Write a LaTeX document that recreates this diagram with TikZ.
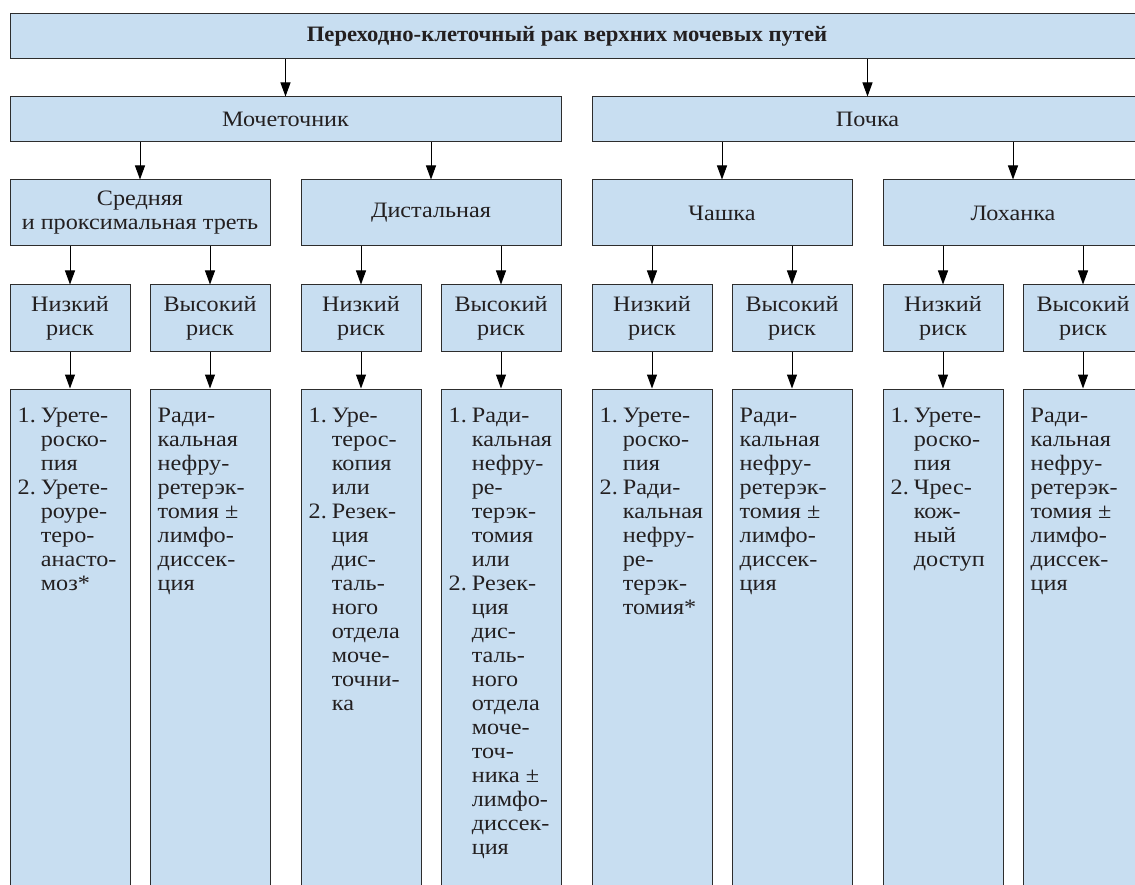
\documentclass[tikz,border=0pt]{standalone}
\usepackage{fontspec}
\setmainfont{Liberation Serif}[FakeStretch=1.1]
\newfontfamily\titlefont{Liberation Serif}[FakeStretch=1.03]
\usetikzlibrary{arrows.meta,calc}

\definecolor{boxfill}{RGB}{200,222,241}
\definecolor{boxline}{RGB}{45,45,45}
\definecolor{ink}{RGB}{35,31,32}

% numbered list with hanging indent, first baseline on the anchor
\newcommand\numlist[1]{\begin{tabular}[t]{@{}r@{\hspace{5pt}}l@{}}#1\end{tabular}}
\newcommand\plainlist[1]{\begin{tabular}[t]{@{}l@{}}#1\end{tabular}}

\begin{document}
\begin{tikzpicture}[x=1pt,y=-1pt,
  box/.style={draw=boxline, fill=boxfill, line width=1pt, inner sep=0pt,
    text=ink, align=center, font=\fontsize{22}{24}\selectfont},
  wide/.style={box, minimum height=45},
  mid/.style={box, minimum width=260, minimum height=66},
  risk/.style={box, minimum width=120, minimum height=66},
  leaf/.style={box, minimum width=120, minimum height=521},
  leaftext/.style={anchor=base west, inner sep=0pt, text=ink,
    font=\fontsize{22}{24}\selectfont},
  titletext/.style={inner sep=0pt, text=ink,
    font=\titlefont\bfseries\fontsize{22}{24}\selectfont},
  arr/.style={draw=black, line width=1pt,
    -{Triangle[length=14pt,width=10pt]}}]

\clip (0,0) rectangle (1135,885);

% level 1
\node[wide, minimum width=1133] (top) at (576.5,36.5) {};
\node[titletext] (title) at (567,36.5)
  {Переходно-клеточный рак верхних мочевых путей};

% level 2
\node[wide, minimum width=551] (ureter) at (285.5,119.5) {Мочеточник};
\node[wide, minimum width=551] (kidney) at (867.5,119.5) {Почка};

% level 3
\node[mid] (midprox) at (140,213) {Средняя\\и проксимальная треть};
\node[mid] (distal)  at (431,213) {Дистальная};
\node[mid] (calyx)   at (722,213) {Чашка};
\node[mid] (pelvis)  at (1013,213) {Лоханка};

% level 4
\node[risk] (r1) at (70,318)   {Низкий\\риск};
\node[risk] (r2) at (210,318)  {Высокий\\риск};
\node[risk] (r3) at (361,318)  {Низкий\\риск};
\node[risk] (r4) at (501,318)  {Высокий\\риск};
\node[risk] (r5) at (652,318)  {Низкий\\риск};
\node[risk] (r6) at (792,318)  {Высокий\\риск};
\node[risk] (r7) at (943,318)  {Низкий\\риск};
\node[risk] (r8) at (1083,318) {Высокий\\риск};

% level 5: treatment columns
\foreach \n/\x in {1/70,2/210,3/361,4/501,5/652,6/792,7/943,8/1083}
  \node[leaf] (c\n) at (\x,649.5) {};

\node[leaftext] (t1) at ($(c1.north west)+(8,34)$) {\numlist{
  1. & Урете-\\ & роско-\\ & пия\\
  2. & Урете-\\ & роуре-\\ & теро-\\ & анасто-\\ & моз*}};
\node[leaftext] (t2) at ($(c2.north west)+(8,34)$) {\plainlist{
  Ради-\\кальная\\нефру-\\ретерэк-\\томия ±\\лимфо-\\диссек-\\ция}};
\node[leaftext] (t3) at ($(c3.north west)+(8,34)$) {\numlist{
  1. & Уре-\\ & терос-\\ & копия\\ & или\\
  2. & Резек-\\ & ция\\ & дис-\\ & таль-\\ & ного\\ & отдела\\ & моче-\\
     & точни-\\ & ка}};
\node[leaftext] (t4) at ($(c4.north west)+(8,34)$) {\numlist{
  1. & Ради-\\ & кальная\\ & нефру-\\ & ре-\\ & терэк-\\ & томия\\ & или\\
  2. & Резек-\\ & ция\\ & дис-\\ & таль-\\ & ного\\ & отдела\\ & моче-\\
     & точ-\\ & ника ±\\ & лимфо-\\ & диссек-\\ & ция}};
\node[leaftext] (t5) at ($(c5.north west)+(8,34)$) {\numlist{
  1. & Урете-\\ & роско-\\ & пия\\
  2. & Ради-\\ & кальная\\ & нефру-\\ & ре-\\ & терэк-\\ & томия*}};
\node[leaftext] (t6) at ($(c6.north west)+(8,34)$) {\plainlist{
  Ради-\\кальная\\нефру-\\ретерэк-\\томия ±\\лимфо-\\диссек-\\ция}};
\node[leaftext] (t7) at ($(c7.north west)+(8,34)$) {\numlist{
  1. & Урете-\\ & роско-\\ & пия\\
  2. & Чрес-\\ & кож-\\ & ный\\ & доступ}};
\node[leaftext] (t8) at ($(c8.north west)+(8,34)$) {\plainlist{
  Ради-\\кальная\\нефру-\\ретерэк-\\томия ±\\лимфо-\\диссек-\\ция}};

% connectors
\draw[arr] (top.south -| ureter) -- (ureter.north);
\draw[arr] (top.south -| kidney) -- (kidney.north);
\draw[arr] (ureter.south -| midprox) -- (midprox.north);
\draw[arr] (ureter.south -| distal) -- (distal.north);
\draw[arr] (kidney.south -| calyx) -- (calyx.north);
\draw[arr] (kidney.south -| pelvis) -- (pelvis.north);
\draw[arr] (midprox.south -| r1) -- (r1.north);
\draw[arr] (midprox.south -| r2) -- (r2.north);
\draw[arr] (distal.south -| r3) -- (r3.north);
\draw[arr] (distal.south -| r4) -- (r4.north);
\draw[arr] (calyx.south -| r5) -- (r5.north);
\draw[arr] (calyx.south -| r6) -- (r6.north);
\draw[arr] (pelvis.south -| r7) -- (r7.north);
\draw[arr] (pelvis.south -| r8) -- (r8.north);
\foreach \n in {1,...,8}
  \draw[arr] (r\n.south) -- (c\n.north);
\end{tikzpicture}
\end{document}
